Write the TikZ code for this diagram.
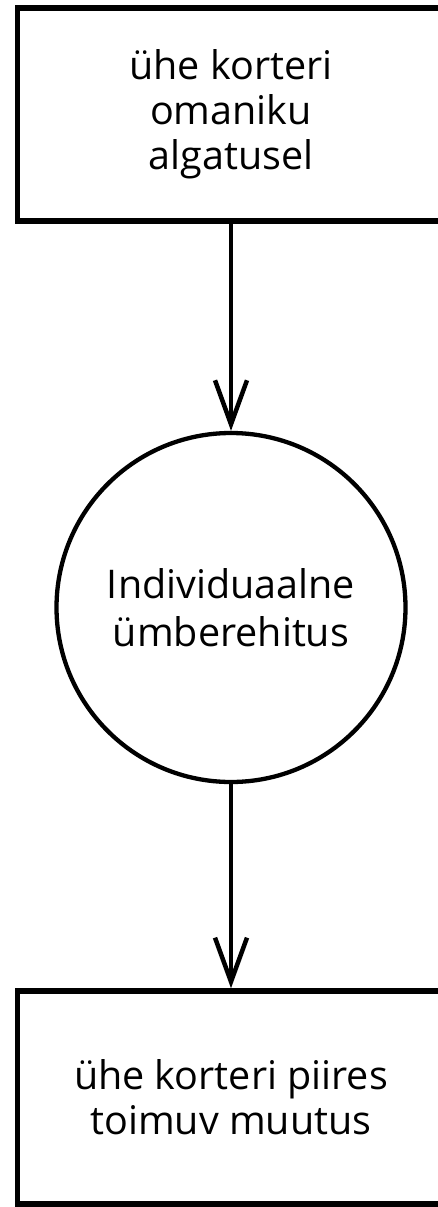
\documentclass[tikz,border=0pt]{standalone}
\usepackage{fontspec}
\setmainfont{Open Sans}
\usetikzlibrary{arrows.meta}
\begin{document}
\begin{tikzpicture}[x=1pt,y=-1pt,
  boxnode/.style={draw=black,line width=5.5pt,minimum width=427pt,minimum height=213pt,inner sep=0pt,align=center,font=\fontsize{39.5}{45}\selectfont},
  circnode/.style={draw=black,circle,line width=4.3pt,minimum size=349pt,inner sep=0pt,align=center,font=\fontsize{39.5}{48}\selectfont},
  arr/.style={line width=4.5pt,-{Straight Barb[length=44pt,width=32pt]}}]
\useasboundingbox (0,0) rectangle (438,1207);
\node[boxnode] (top) at (231,114.5) {ühe korteri\\omaniku\\algatusel};
\node[circnode] (mid) at (231,607.5) {Individuaalne\\ümberehitus};
\node[boxnode] (bot) at (231,1097.5) {ühe korteri piires\\toimuv muutus};
\draw[arr] (top.south) -- (mid.north);
\draw[arr] (mid.south) -- (bot.north);
\end{tikzpicture}
\end{document}
